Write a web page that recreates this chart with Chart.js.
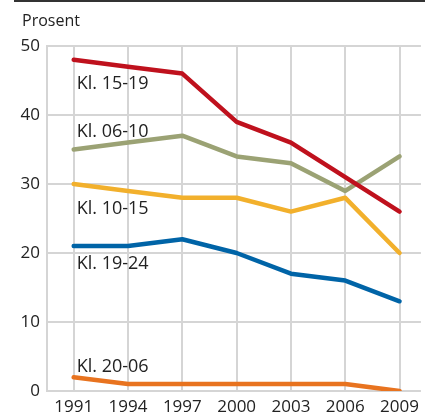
<!DOCTYPE html>
<html>
<head>
<meta charset="utf-8">
<script src="https://cdn.jsdelivr.net/npm/chart.js@4.4.1/dist/chart.umd.min.js"></script>
<style>
  html, body { margin: 0; padding: 0; background: #fff; overflow: hidden; }
  #wrap { position: relative; width: 425px; height: 413px; }
</style>
</head>
<body>
<div id="wrap"><canvas id="chart" width="425" height="413"></canvas></div>
<script>
// years on the x axis
const years = [1991, 1994, 1997, 2000, 2003, 2006, 2009];
const yTicks = [0, 10, 20, 30, 40, 50];

// series (percent)
const seriesNames = ['Kl. 15-19', 'Kl. 06-10', 'Kl. 10-15', 'Kl. 19-24', 'Kl. 20-06'];
const kl1519 = [48, 47, 46, 39, 36, 31, 26];
const kl0610 = [35, 36, 37, 34, 33, 29, 34];
const kl1015 = [30, 29, 28, 28, 26, 28, 20];
const kl1924 = [21, 21, 22, 20, 17, 16, 13];
const kl2006 = [2, 1, 1, 1, 1, 1, 0];

const colors = ['#bf111d', '#9ba274', '#f2b02c', '#0064a7', '#e8731f'];
// label baseline offset (px) from the first point of each line
const labelOffsets = [29, -13, 30, 22.5, -5];

const allSeries = [kl1519, kl0610, kl1015, kl1924, kl2006];
const font = "'Open Sans', 'Noto Sans', sans-serif";

const datasets = allSeries.map((vals, i) => ({
  label: seriesNames[i],
  data: vals.map((v, j) => ({ x: years[j], y: v })),
  borderColor: colors[i],
  backgroundColor: colors[i],
  borderWidth: 4.5,
  borderCapStyle: 'round',
  borderJoinStyle: 'round',
  pointRadius: 0,
  tension: 0,
  fill: false
}));

const decor = {
  id: 'decor',
  afterDraw(chart) {
    const ctx = chart.ctx;
    const xs = chart.scales.x, ys = chart.scales.y;
    ctx.save();
    // top rule
    ctx.fillStyle = '#333';
    ctx.fillRect(14, 0, 411, 2);
    // unit
    ctx.fillStyle = '#222';
    ctx.font = '16px ' + font;
    ctx.textBaseline = 'alphabetic';
    ctx.textAlign = 'left';
    ctx.fillText('Prosent', 22, 26);
    // series labels
    ctx.font = '18px ' + font;
    allSeries.forEach((vals, i) => {
      const x = xs.getPixelForValue(years[0]) + 3;
      const y = ys.getPixelForValue(vals[0]) + labelOffsets[i];
      ctx.fillText(seriesNames[i], x, y);
    });
    ctx.restore();
  }
};

new Chart(document.getElementById('chart'), {
  type: 'line',
  data: { datasets: datasets },
  options: {
    responsive: false,
    animation: false,
    layout: { padding: { top: 46, left: 0, right: 0, bottom: 0 } },
    plugins: { legend: { display: false }, tooltip: { enabled: false } },
    scales: {
      x: {
        type: 'linear',
        min: 1989.525,
        max: 2010.18,
        afterBuildTicks: s => { s.ticks = years.map(v => ({ value: v })); },
        afterFit: s => { s.height = 22; },
        grid: { color: '#d5d5d5', lineWidth: 2, drawTicks: false },
        border: { display: false },
        ticks: {
          padding: 6,
          color: '#222',
          font: { family: font, size: 17 },
          maxRotation: 0,
          autoSkip: false,
          callback: v => String(v)
        }
      },
      y: {
        min: 0,
        max: 50,
        afterBuildTicks: s => { s.ticks = yTicks.map(v => ({ value: v })); },
        afterFit: s => { s.width = 47; },
        grid: { color: '#d5d5d5', lineWidth: 2, drawTicks: false },
        border: { display: true, color: '#d5d5d5', width: 2 },
        ticks: {
          padding: 7,
          color: '#222',
          font: { family: font, size: 17 }
        }
      }
    }
  },
  plugins: [decor]
});
</script>
</body>
</html>
